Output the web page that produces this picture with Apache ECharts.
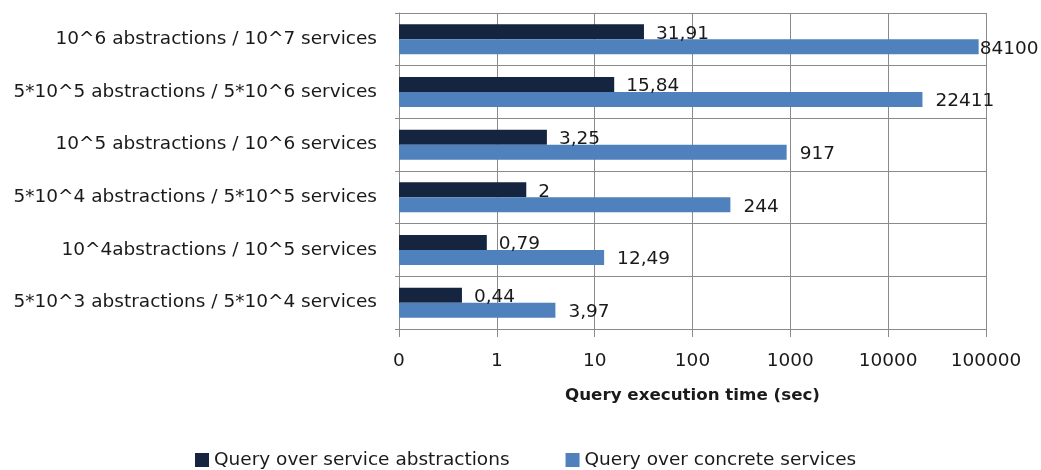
<!DOCTYPE html>
<html>
<head>
<meta charset="utf-8">
<script src="https://cdn.jsdelivr.net/npm/echarts@6/dist/echarts.min.js"></script>
<style>
html,body{margin:0;padding:0;background:#fff;}
#chart{width:1041px;height:470px;}
</style>
</head>
<body>
<div id="chart"></div>
<script>
// categories listed bottom to top (ECharts category y-axis order)
const categories = [
  "5*10^3 abstractions / 5*10^4 services",
  "10^4abstractions / 10^5 services",
  "5*10^4 abstractions / 5*10^5 services",
  "10^5 abstractions / 10^6 services",
  "5*10^5 abstractions / 5*10^6 services",
  "10^6 abstractions / 10^7 services"
];
const abstractionsTimes = [0.44, 0.79, 2, 3.25, 15.84, 31.91];
const concreteTimes = [3.97, 12.49, 244, 917, 22411, 84100];
const seriesNames = ["Query over service abstractions", "Query over concrete services"];
const axisMin = 0.1, axisMax = 100000;
const axisTitle = "Query execution time (sec)";

const FONT = "DejaVu Sans";
const FS = 18.5;
const TXT = "#1a1a1a";
const GRID = "#8a8a8a";
const DARK = "#15253f";
const LIGHT = "#4f81bd";

const fmtComma = p => String(p.value).replace('.', ',');

const chart = echarts.init(document.getElementById('chart'), null, {renderer: 'canvas'});
chart.setOption({
  animation: false,
  backgroundColor: '#fff',
  textStyle: {fontFamily: FONT, color: TXT},
  grid: {left: 399, right: 55, top: 13, bottom: 141, containLabel: false, outerBoundsMode: 'none'},
  legend: {
    data: seriesNames,
    left: 190, top: 444,
    itemWidth: 14, itemHeight: 14, itemGap: 56,
    icon: 'rect',
    textStyle: {fontFamily: FONT, fontSize: FS, color: TXT, lineHeight: 22}
  },
  xAxis: {
    type: 'log', logBase: 10, min: axisMin, max: axisMax, startValue: axisMin,
    name: axisTitle, nameLocation: 'middle', nameGap: 58,
    nameTextStyle: {fontFamily: FONT, fontWeight: 'bold', fontSize: 16.7, color: TXT},
    axisLine: {show: true, lineStyle: {color: GRID, width: 1}},
    axisTick: {show: true, length: 8, lineStyle: {color: GRID}},
    splitLine: {show: true, lineStyle: {color: GRID, width: 1}},
    axisLabel: {
      fontFamily: FONT, fontSize: FS, color: TXT, margin: 23,
      formatter: v => v < 1 ? '0' : String(Math.round(v))
    }
  },
  yAxis: {
    type: 'category', data: categories,
    axisLine: {show: true, lineStyle: {color: GRID, width: 1}},
    axisTick: {show: true, length: 4, lineStyle: {color: GRID}},
    splitLine: {show: true, lineStyle: {color: GRID, width: 1}},
    axisLabel: {fontFamily: FONT, fontSize: FS, color: TXT, margin: 22}
  },
  series: [
    {
      name: seriesNames[0], type: 'bar', data: abstractionsTimes,
      barWidth: 15, barGap: '0%',
      itemStyle: {color: DARK},
      label: {show: true, position: 'right', distance: 12, offset: [0, 2],
        fontFamily: FONT, fontSize: FS, color: TXT, formatter: fmtComma}
    },
    {
      name: seriesNames[1], type: 'bar',
      data: concreteTimes.map((v, i) => i === concreteTimes.length - 1 ? {value: v, label: {distance: 1}} : v),
      barWidth: 15, barGap: '0%',
      itemStyle: {color: LIGHT},
      label: {show: true, position: 'right', distance: 13, offset: [0, 2],
        fontFamily: FONT, fontSize: FS, color: TXT, formatter: fmtComma}
    }
  ]
});
</script>
</body>
</html>
